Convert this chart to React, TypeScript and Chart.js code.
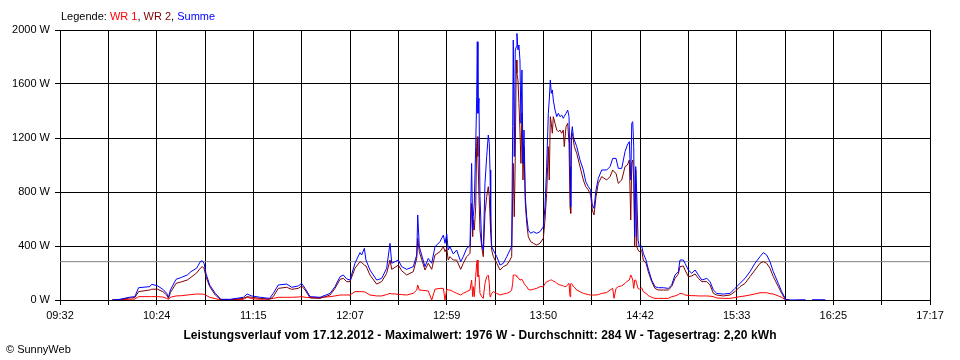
import React, { useEffect, useRef } from 'react';
import { Chart, registerables } from 'chart.js';

Chart.register(...registerables);

// Time of each sample (HH:MM:SS)
const times = [
  '10:00:00','10:04:00','10:09:00','10:12:00','10:14:00','10:20:00','10:21:00','10:24:00','10:27:00','10:29:00',
  '10:30:00','10:31:00','10:34:00','10:37:00','10:40:00','10:42:00','10:45:00','10:47:00','10:48:00','10:49:00',
  '10:50:00','10:52:00','10:55:00','10:58:00','11:03:00','11:10:00','11:12:00','11:14:30','11:19:00','11:24:00',
  '11:26:00','11:28:40','11:33:10','11:35:50','11:39:20','11:41:10','11:43:00','11:45:40','11:51:00','11:56:20',
  '11:59:00','12:01:40','12:03:25','12:05:15','12:07:00','12:09:40','12:12:20','12:13:15','12:14:40','12:15:33',
  '12:17:40','12:21:15','12:23:55','12:26:36','12:28:23','12:29:18','12:31:03','12:32:50','12:34:38','12:37:19',
  '12:40:50','12:42:40','12:43:12','12:44:02','12:47:05','12:48:50','12:50:40','12:52:26','12:55:06','12:56:54',
  '12:57:48','12:58:42','12:59:30','13:00:24','13:02:12','13:04:00','13:06:10','13:07:33','13:09:22','13:11:08',
  '13:12:00','13:12:35','13:12:54','13:13:26','13:14:11','13:14:43','13:15:02','13:15:24','13:15:56','13:16:28',
  '13:17:23','13:18:14','13:19:09','13:20:03','13:20:55','13:21:27','13:21:50','13:22:12','13:22:44','13:23:37',
  '13:25:26','13:27:12','13:28:58','13:30:47','13:32:30','13:33:25','13:33:57','13:34:16','13:34:48','13:35:20',
  '13:35:52','13:36:14','13:36:46','13:37:18','13:37:50','13:38:22','13:38:54','13:39:27','13:40:00','13:40:42',
  '13:41:27','13:42:18','13:43:35','13:45:00','13:46:48','13:48:33','13:50:20','13:51:13','13:52:07','13:53:00',
  '13:53:30','13:54:04','13:54:36','13:55:08','13:55:40','13:56:35','13:57:30','13:58:20','13:59:14','14:00:09',
  '14:01:00','14:01:32','14:02:27','14:03:22','14:04:04','14:04:36','14:04:58','14:05:18','14:05:50','14:06:22',
  '14:06:54','14:08:11','14:09:56','14:11:43','14:13:00','14:14:24','14:15:38','14:16:30','14:17:25','14:18:29',
  '14:19:43','14:21:32','14:24:12','14:26:00','14:27:25','14:28:07','14:29:11','14:30:25','14:32:14','14:34:00',
  '14:35:14','14:36:18','14:37:03','14:37:35','14:38:07','14:38:39','14:39:11','14:39:43','14:40:15','14:40:57',
  '14:41:38','14:42:55','14:43:46','14:45:13','14:46:26','14:48:14','14:50:00','14:51:47','14:54:27','14:57:07',
  '14:58:56','15:00:42','15:02:29','15:03:23','15:05:10','15:06:04','15:07:51','15:09:40','15:11:26','15:13:13',
  '15:15:02','15:17:42','15:19:26','15:21:13','15:23:02','15:26:32','15:30:06','15:32:46','15:35:26','15:38:07',
  '15:40:47','15:43:28','15:46:08','15:47:54','15:49:43','15:51:28','15:53:15','15:55:55','15:57:44','15:59:52',
  '16:02:00','16:10:30','16:11:30','16:14:00','16:21:00',
];

// Summe (W)
const summe = [
  0,5,20,25,91,99,116,106,79,50,
  20,74,153,168,185,210,235,284,291,272,
  198,111,49,5,5,20,44,30,20,12,
  49,111,118,94,104,123,86,25,20,49,
  99,173,185,156,148,272,351,333,383,296,
  222,148,160,235,420,272,284,296,247,227,
  247,333,630,395,247,308,272,395,432,481,
  420,489,370,395,341,370,284,321,383,400,
  1012,518,617,716,1136,1506,1913,1383,1494,765,
  420,370,864,1062,1222,1160,963,617,395,370,
  321,259,272,321,370,395,1284,1926,1062,1852,
  1876,1975,1852,1889,1778,1309,1704,1012,1259,765,
  617,518,494,506,494,506,543,691,988,1383,
  1481,1630,1531,1556,1481,1407,1358,1383,1358,1370,
  1346,1360,1383,1407,1358,988,691,1222,1284,1210,
  1185,1136,1037,963,877,839,815,704,679,815,
  901,963,963,988,1049,1049,1049,975,975,1099,
  1148,1173,889,1309,1321,1136,469,988,790,444,
  395,400,346,296,230,148,99,91,91,86,
  111,185,210,296,296,272,222,198,222,185,
  148,160,136,74,49,44,49,86,123,160,
  210,272,321,351,333,284,210,123,62,5,
  0,2,null,2,2,
];

// WR 2 (W)
const wr2 = [
  0,3,15,18,62,74,80,80,62,37,
  12,54,123,135,148,168,200,235,247,235,
  173,99,37,2,3,12,25,20,12,5,
  25,86,94,79,86,104,74,15,12,37,
  86,153,160,136,136,235,284,277,259,252,
  185,118,136,198,296,227,242,259,217,185,
  210,309,457,358,222,272,227,333,358,395,
  358,383,296,321,296,296,227,272,321,346,
  716,469,593,518,691,1160,1210,1062,765,518,
  395,321,642,765,839,765,617,500,370,321,
  272,222,247,259,296,321,765,1012,617,1062,
  1778,1679,1630,1457,1259,1012,1383,889,1136,716,
  568,469,432,420,407,420,457,593,790,1136,
  889,1358,1309,1235,1358,1309,1259,1247,1259,1235,
  1259,1136,1284,1309,1160,691,642,1210,1235,1185,
  1136,1086,988,889,839,815,778,667,630,765,
  864,914,889,914,963,950,938,864,889,988,
  1000,1037,593,1012,1037,889,395,963,395,370,
  358,370,296,272,210,136,86,74,74,74,
  99,160,193,247,252,222,173,178,193,160,
  136,136,111,49,37,30,37,62,99,123,
  173,222,272,284,272,235,173,99,49,0,
  0,null,null,null,null,
];

// WR 1 (W)
const wr1 = [
  0,2,5,7,25,25,25,25,22,12,
  5,20,30,32,37,40,44,44,44,42,
  35,20,10,2,2,5,20,10,5,8,
  12,20,20,20,22,25,20,18,18,25,
  30,37,37,37,37,62,62,62,60,55,
  37,30,30,40,49,45,45,42,40,37,
  50,74,111,74,70,67,0,80,86,86,
  0,79,74,74,62,50,37,50,62,74,
  148,25,99,25,173,272,296,173,185,49,
  25,12,123,173,185,123,25,30,49,62,
  49,37,45,49,60,74,123,185,185,185,
  180,173,165,160,148,150,153,140,123,110,
  99,79,74,80,86,99,99,120,136,140,
  143,148,148,145,140,136,123,118,111,108,
  104,100,99,115,123,25,120,123,115,99,
  95,74,62,49,45,40,37,37,37,37,
  40,49,55,74,86,12,86,99,105,123,
  140,148,185,170,148,86,148,148,120,86,
  80,90,62,49,33,20,12,12,12,12,
  25,30,40,49,45,37,34,32,32,30,
  30,30,28,25,15,12,12,18,25,30,
  37,45,54,54,54,47,44,30,20,0,
  0,null,null,null,null,
];

const tickLabels = ['09:32', '10:24', '11:15', '12:07', '12:59', '13:50', '14:42', '15:33', '16:25', '17:17'];
const averageW = 284;
const yMax = 2000;
const yStep = 400;

const titleText = 'Leistungsverlauf vom 17.12.2012 - Maximalwert: 1976 W - Durchschnitt: 284 W - Tagesertrag: 2,20 kWh';

function toMin(t: string): number {
  const p = t.split(':').map(Number);
  return p[0] * 60 + p[1] + (p[2] || 0) / 60;
}

export default function App() {
  const ref = useRef<HTMLCanvasElement | null>(null);

  useEffect(() => {
    if (!ref.current) return;
    const xMin = toMin(tickLabels[0]);
    const xMax = toMin(tickLabels[tickLabels.length - 1]);
    const nGrid = (tickLabels.length - 1) * 2;
    const tickVals = Array.from({ length: nGrid + 1 }, (_, i) => xMin + (i * (xMax - xMin)) / nGrid);
    const pts = (arr: (number | null)[]) => times.map((t, i) => ({ x: toMin(t), y: arr[i] }));
    const font = { family: '"Liberation Sans", Arial, sans-serif', size: 11 };

    const chart = new Chart(ref.current, {
      type: 'line',
      data: {
        datasets: [
          { label: 'Summe', data: pts(summe), borderColor: '#0000ff', borderWidth: 1, pointRadius: 0, order: 1, spanGaps: false },
          { label: 'WR 2', data: pts(wr2), borderColor: '#800000', borderWidth: 1, pointRadius: 0, order: 2, spanGaps: false },
          { label: 'WR 1', data: pts(wr1), borderColor: '#ff0000', borderWidth: 1, pointRadius: 0, order: 3, spanGaps: false },
          {
            label: 'Durchschnitt',
            data: [{ x: xMin, y: averageW }, { x: xMax, y: averageW }],
            borderColor: '#808080', borderWidth: 1, pointRadius: 0, order: 4,
          },
        ] as any,
      },
      options: {
        animation: false,
        responsive: false,
        devicePixelRatio: 1,
        layout: { padding: { top: 30, right: 30, left: 0, bottom: 0 } },
        elements: { line: { tension: 0 } },
        plugins: { legend: { display: false }, tooltip: { enabled: false }, title: { display: false } },
        scales: {
          x: {
            type: 'linear',
            min: xMin,
            max: xMax,
            afterBuildTicks: (axis: any) => {
              axis.ticks = tickVals.map((v) => ({ value: v }));
            },
            afterFit: (s: any) => { s.height = 60; },
            grid: { color: '#000000', lineWidth: 1, tickLength: 5, drawTicks: true },
            border: { color: '#000000', width: 1 },
            ticks: {
              autoSkip: false,
              maxRotation: 0,
              minRotation: 0,
              color: '#000000',
              font,
              padding: 4,
              callback: (_v: any, index: number) => (index % 2 === 0 ? tickLabels[index / 2] : ''),
            },
          },
          y: {
            min: 0,
            max: yMax,
            afterFit: (s: any) => { s.width = 60; },
            grid: { color: '#000000', lineWidth: 1, tickLength: 5, drawTicks: true },
            border: { color: '#000000', width: 1 },
            ticks: {
              stepSize: yStep,
              color: '#000000',
              font,
              padding: 5,
              callback: (v: any) => `${v} W`,
            },
          },
        },
      } as any,
    });
    return () => chart.destroy();
  }, []);

  const base: React.CSSProperties = {
    position: 'absolute',
    fontFamily: '"Liberation Sans", Arial, sans-serif',
    fontSize: 11,
    lineHeight: '13px',
    whiteSpace: 'nowrap',
    color: '#000',
  };

  return (
    <div style={{ position: 'absolute', left: 0, top: 0, width: 960, height: 360, background: '#fff', overflow: 'hidden' }}>
      <canvas ref={ref} width={960} height={360} style={{ display: 'block', position: 'absolute', left: 0, top: 0 }} />
      <div style={{ ...base, left: 61, top: 10 }}>
        Legende: <span style={{ color: '#ff0000' }}>WR 1</span>, <span style={{ color: '#800000' }}>WR 2</span>,{' '}
        <span style={{ color: '#0000ff' }}>Summe</span>
      </div>
      <div
        style={{
          ...base,
          left: 0,
          width: 960,
          top: 328,
          textAlign: 'center',
          fontWeight: 'bold',
          fontSize: 12,
          lineHeight: '14px',
          letterSpacing: '0.1px',
        }}
      >
        {titleText}
      </div>
      <div style={{ ...base, left: 6, top: 343 }}>© SunnyWeb</div>
    </div>
  );
}
